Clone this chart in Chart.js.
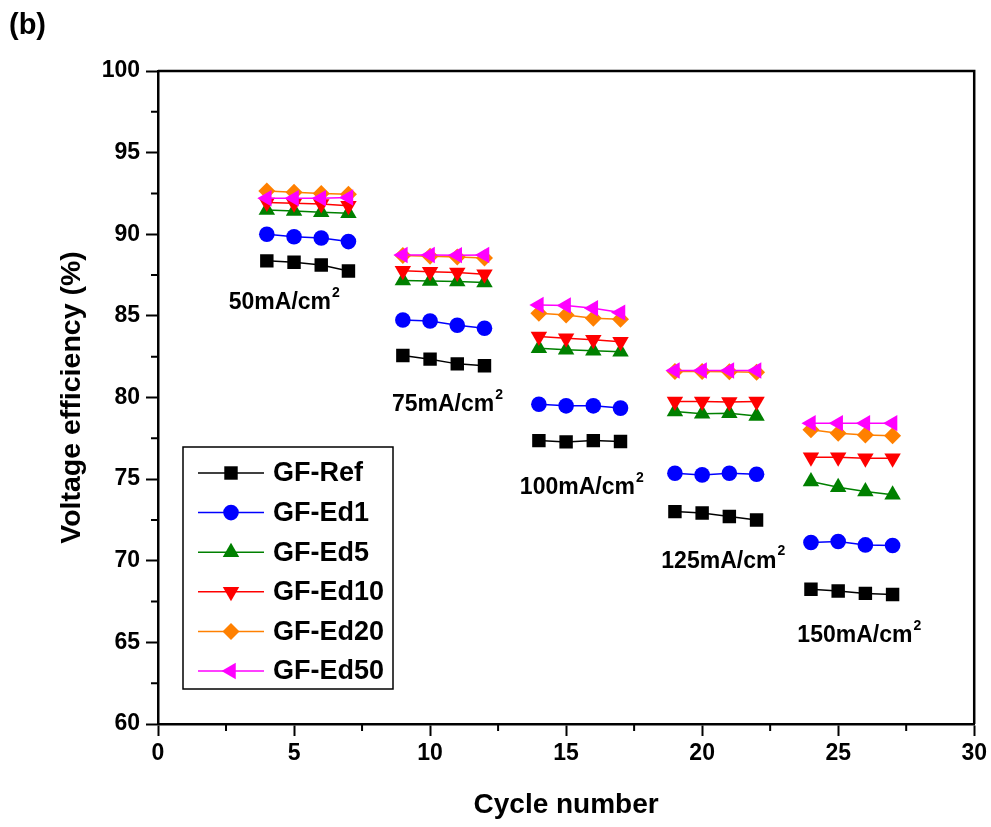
<!DOCTYPE html>
<html>
<head>
<meta charset="utf-8">
<script src="https://cdn.jsdelivr.net/npm/chart.js@4.4.0/dist/chart.umd.min.js"></script>
<style>
  html, body { margin: 0; padding: 0; background: #fff; }
  #wrap { width: 991px; height: 827px; }
</style>
</head>
<body>
<div id="wrap"><canvas id="c" width="991" height="827"></canvas></div>
<script>
// cycle numbers (five current densities, four cycles each)
const cycles = [4, 5, 6, 7, 9, 10, 11, 12, 14, 15, 16, 17, 19, 20, 21, 22, 24, 25, 26, 27];
const seriesNames = ['GF-Ref', 'GF-Ed1', 'GF-Ed5', 'GF-Ed10', 'GF-Ed20', 'GF-Ed50'];

const gfRef  = [88.37, 88.29, 88.12, 87.75, 82.57, 82.35, 82.06, 81.94, 77.36, 77.28, 77.36, 77.30, 73.01, 72.92, 72.71, 72.50, 68.25, 68.15, 68.00, 67.93];
const gfEd1  = [90.00, 89.85, 89.77, 89.55, 84.75, 84.69, 84.43, 84.24, 79.59, 79.49, 79.49, 79.35, 75.36, 75.26, 75.36, 75.30, 71.12, 71.18, 70.97, 70.93];
const gfEd5  = [91.49, 91.43, 91.35, 91.29, 87.16, 87.14, 87.10, 87.04, 83.02, 82.92, 82.87, 82.81, 79.14, 79.00, 79.04, 78.87, 74.85, 74.50, 74.24, 74.04];
const gfEd10 = [91.95, 91.90, 91.85, 91.75, 87.77, 87.71, 87.65, 87.55, 83.73, 83.63, 83.53, 83.42, 79.75, 79.75, 79.72, 79.75, 76.34, 76.34, 76.28, 76.28];
const gfEd20 = [92.65, 92.58, 92.50, 92.45, 88.70, 88.65, 88.60, 88.55, 85.16, 85.06, 84.86, 84.80, 81.60, 81.60, 81.58, 81.55, 78.02, 77.81, 77.71, 77.65];
const gfEd50 = [92.20, 92.20, 92.20, 92.25, 88.73, 88.73, 88.72, 88.73, 85.67, 85.63, 85.47, 85.20, 81.65, 81.65, 81.65, 81.65, 78.43, 78.43, 78.43, 78.43];

// current density labels: text, left x (cycle) and centre y (%)
const densityLabels = ['50mA/cm', '75mA/cm', '100mA/cm', '125mA/cm', '150mA/cm'];
const densityX = [2.6, 8.6, 13.3, 18.5, 23.5];
const densityY = [85.8, 79.55, 74.45, 69.95, 65.4];

const xTicks = [0, 5, 10, 15, 20, 25, 30];
const yTicks = [60, 65, 70, 75, 80, 85, 90, 95, 100];

const FONT = "'Liberation Sans', Arial, sans-serif";
const colors = ['#000000', '#0000ff', '#008000', '#ff0000', '#ff8000', '#ff00ff'];
const styles = ['rect', 'circle', 'triangle', 'triangle', 'rectRot', 'triangle'];
const rotations = [0, 0, 0, 180, 0, -90];
const radii = [9.5, 7.8, 9.5, 9.5, 8.5, 9.5];
const allValues = [gfRef, gfEd1, gfEd5, gfEd10, gfEd20, gfEd50];

const datasets = allValues.map((vals, i) => ({
  label: seriesNames[i],
  data: cycles.map((c, j) => ({ x: c, y: vals[j] })),
  borderColor: colors[i],
  backgroundColor: colors[i],
  borderWidth: 1.5,
  pointStyle: styles[i],
  pointRotation: rotations[i],
  pointRadius: radii[i],
  pointHoverRadius: radii[i],
  pointBorderWidth: 0,
  order: 5 - i,
  segment: {
    // no line between the current-density groups
    borderColor: ctx => (ctx.p1.parsed.x - ctx.p0.parsed.x > 1 ? 'rgba(0,0,0,0)' : colors[i])
  }
}));

// top/right frame and minor ticks
const frame = {
  id: 'frame',
  afterDraw(chart) {
    const { ctx, chartArea: a, scales: { x, y } } = chart;
    ctx.save();
    ctx.strokeStyle = '#000';
    ctx.lineWidth = 2.5;
    ctx.beginPath();
    ctx.moveTo(a.left, a.top);
    ctx.lineTo(a.right, a.top);
    ctx.lineTo(a.right, a.bottom);
    ctx.stroke();
    ctx.lineWidth = 2;
    ctx.beginPath();
    for (let v = x.min + 2.5; v < x.max; v += 5) {
      const px = x.getPixelForValue(v);
      ctx.moveTo(px, a.bottom);
      ctx.lineTo(px, a.bottom + 7);
    }
    for (let v = y.min + 2.5; v < y.max; v += 5) {
      const py = y.getPixelForValue(v);
      ctx.moveTo(a.left - 7, py);
      ctx.lineTo(a.left, py);
    }
    ctx.stroke();
    ctx.restore();
  }
};

// density annotations with superscript 2, and the panel label
const notes = {
  id: 'notes',
  afterDraw(chart) {
    const { ctx, scales: { x, y } } = chart;
    ctx.save();
    ctx.fillStyle = '#000';
    ctx.textBaseline = 'middle';
    ctx.textAlign = 'left';
    densityLabels.forEach((t, i) => {
      const px = x.getPixelForValue(densityX[i]);
      const py = y.getPixelForValue(densityY[i]);
      ctx.font = 'bold 23px ' + FONT;
      ctx.fillText(t, px, py);
      const w = ctx.measureText(t).width;
      ctx.font = 'bold 14px ' + FONT;
      ctx.fillText('2', px + w + 1, py - 10);
    });
    ctx.font = 'bold 29px ' + FONT;
    ctx.fillText('(b)', 9, 26);
    ctx.restore();
  }
};

// legend box inside the plot
const boxLegend = {
  id: 'boxLegend',
  afterDraw(chart) {
    const { ctx } = chart;
    const left = 183, top = 447, right = 393, bottom = 689;
    ctx.save();
    ctx.strokeStyle = '#000';
    ctx.lineWidth = 1.5;
    ctx.strokeRect(left, top, right - left, bottom - top);
    chart.data.datasets.forEach((ds, i) => {
      const yy = 473 + i * 39.6;
      ctx.strokeStyle = ds.borderColor;
      ctx.fillStyle = ds.backgroundColor;
      ctx.lineWidth = 1.5;
      ctx.beginPath();
      ctx.moveTo(198, yy);
      ctx.lineTo(264, yy);
      ctx.stroke();
      Chart.helpers.drawPoint(ctx, {
        pointStyle: ds.pointStyle,
        rotation: ds.pointRotation,
        radius: ds.pointRadius,
        borderWidth: 0
      }, 231, yy);
      ctx.fillStyle = '#000';
      ctx.font = 'bold 27px ' + FONT;
      ctx.textBaseline = 'middle';
      ctx.textAlign = 'left';
      ctx.fillText(ds.label, 273, yy + 1);
    });
    ctx.restore();
  }
};

new Chart(document.getElementById('c'), {
  type: 'line',
  data: { datasets },
  options: {
    responsive: false,
    animation: false,
    devicePixelRatio: 1,
    layout: { padding: { top: 71, right: 16, left: 0, bottom: 0 } },
    plugins: { legend: { display: false }, tooltip: { enabled: false } },
    scales: {
      x: {
        type: 'linear',
        min: 0,
        max: 30,
        afterBuildTicks: s => { s.ticks = xTicks.map(v => ({ value: v })); },
        afterFit: s => { s.height = 103; },
        ticks: { color: '#000', font: { family: FONT, size: 23, weight: 'bold' }, padding: 4 },
        grid: { drawOnChartArea: false, drawTicks: true, tickLength: 12, tickWidth: 2, tickColor: '#000' },
        border: { display: true, color: '#000', width: 2.5 },
        title: {
          display: true,
          text: 'Cycle number',
          color: '#000',
          font: { family: FONT, size: 28, weight: 'bold' },
          padding: { top: 0, bottom: 5 }
        }
      },
      y: {
        min: 60,
        max: 100,
        afterBuildTicks: s => { s.ticks = yTicks.map(v => ({ value: v })); },
        afterFit: s => { s.width = 158; },
        ticks: { color: '#000', font: { family: FONT, size: 23, weight: 'bold' }, padding: 6 },
        grid: { drawOnChartArea: false, drawTicks: true, tickLength: 12, tickWidth: 2, tickColor: '#000' },
        border: { display: true, color: '#000', width: 2.5 },
        title: {
          display: true,
          text: 'Voltage efficiency (%)',
          color: '#000',
          font: { family: FONT, size: 28.5, weight: 'bold' },
          padding: { top: 55, bottom: 0 }
        }
      }
    }
  },
  plugins: [frame, notes, boxLegend]
});
</script>
</body>
</html>
